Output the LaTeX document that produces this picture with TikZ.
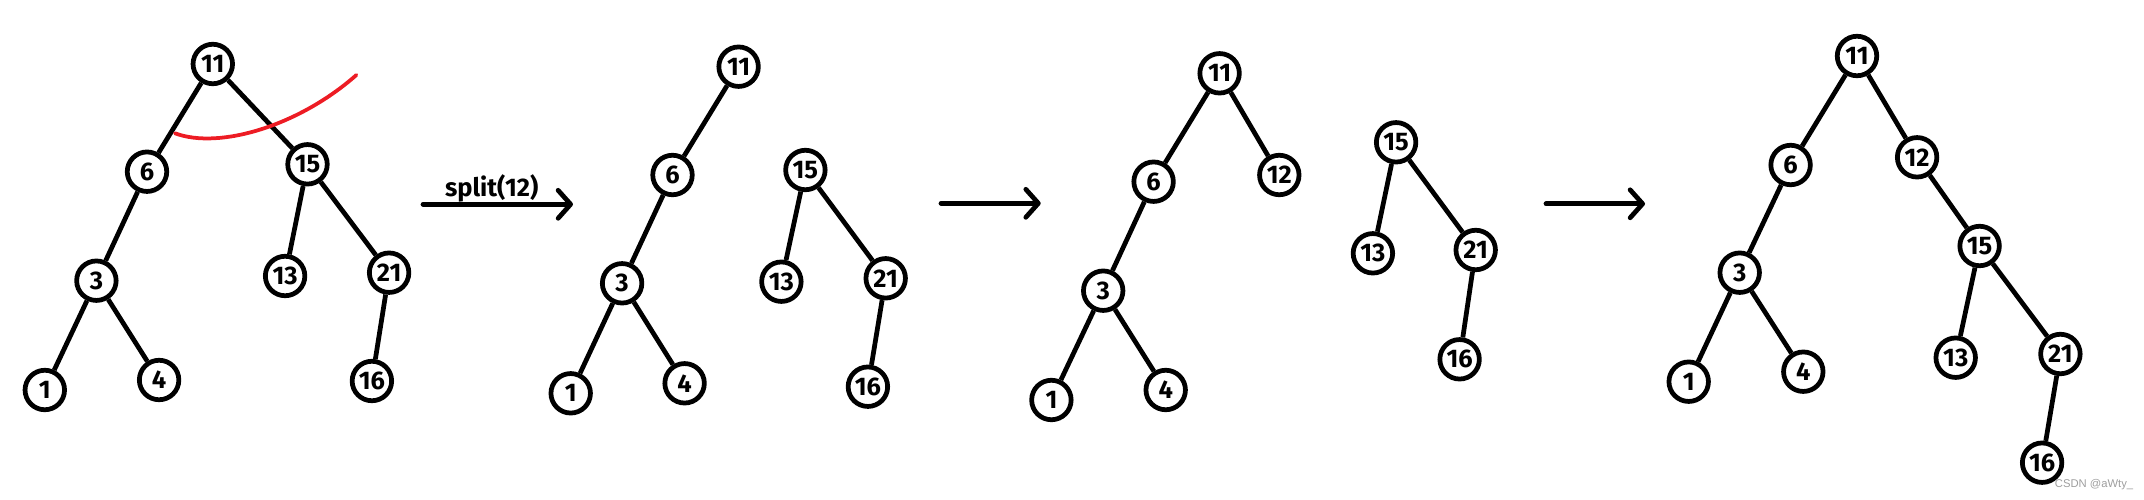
\documentclass[tikz,border=0pt]{standalone}
\usepackage{fontspec}
\setmainfont{Fira Sans}
\newfontfamily\wmfont{Liberation Sans}
\usetikzlibrary{arrows.meta}

\definecolor{cutred}{RGB}{237,28,36}
\tikzset{
  vtx/.style={circle, draw, line width=0.095cm, minimum size=0.79cm, inner sep=0pt,
    font=\bfseries\fontsize{14.5}{16}\selectfont},
  link/.style={line width=0.095cm},
  steparrow/.style={line width=0.095cm, line cap=round,
    -{Straight Barb[length=0.25cm, width=0.56cm, line cap=round, line join=round]}},
  cutline/.style={draw=cutred, line width=0.075cm, line cap=round}
}

\begin{document}
\begin{tikzpicture}[x=0.02cm, y=-0.02cm]
\useasboundingbox (0,0) rectangle (2144,500);

% Tree before the split
\foreach \n/\x/\y in {11/212.8/64, 6/147/171.7, 15/307.5/164.3, 3/96.4/280.7, 13/285.1/276,
    21/389.1/272.7, 1/44.8/390, 4/159.1/380, 16/371.9/381}
  \node[vtx] (a\n) at (\x,\y) {\n};
\foreach \p/\c in {11/6, 11/15, 6/3, 3/1, 3/4, 15/13, 15/21, 21/16}
  \draw[link] (a\p) -- (a\c);

% Cut through the tree
\draw[cutline] (175,133.3) .. controls (220,150) and (300,125) .. (356.4,75);

% split(12)
\coordinate (s1) at (423,204.3);
\coordinate (e1) at (573,204.3);
\draw[steparrow] (s1) -- (e1);
\node (splitlbl) at (491.7,188.3) {\bfseries\fontsize{14.5}{16}\selectfont split(12)};

% The two halves
\foreach \n/\x/\y in {11/738.6/66.7, 6/672.5/175, 3/622.1/283.3, 1/570.7/393.3, 4/684.6/383.3}
  \node[vtx] (b\n) at (\x,\y) {\n};
\foreach \p/\c in {11/6, 6/3, 3/1, 3/4}
  \draw[link] (b\p) -- (b\c);
\foreach \n/\x/\y in {15/805.4/170, 13/781.4/281.7, 21/885.7/278.3, 16/867.9/386.7}
  \node[vtx] (b\n) at (\x,\y) {\n};
\foreach \p/\c in {15/13, 15/21, 21/16}
  \draw[link] (b\p) -- (b\c);

\coordinate (s2) at (941,203.3);
\coordinate (e2) at (1040.7,203.3);
\draw[steparrow] (s2) -- (e2);

% 12 added to the left part
\foreach \n/\x/\y in {11/1219.6/73.3, 12/1279.3/175, 6/1153.6/181.7, 3/1103.2/290.7,
    1/1051.4/400, 4/1165.7/390}
  \node[vtx] (c\n) at (\x,\y) {\n};
\foreach \p/\c in {11/6, 11/12, 6/3, 3/1, 3/4}
  \draw[link] (c\p) -- (c\c);
\foreach \n/\x/\y in {15/1396.1/142.3, 13/1372.9/253.3, 21/1475.7/250, 16/1459.6/359.3}
  \node[vtx] (c\n) at (\x,\y) {\n};
\foreach \p/\c in {15/13, 15/21, 21/16}
  \draw[link] (c\p) -- (c\c);

\coordinate (s3) at (1546,203.8);
\coordinate (e3) at (1645,203.8);
\draw[steparrow] (s3) -- (e3);

% Merged tree
\foreach \n/\x/\y in {11/1857/56, 6/1790.6/165, 12/1917.1/157.3, 3/1739.7/272.7, 1/1688.7/381.7,
    4/1803.3/371.7, 15/1979.6/246, 13/1955.7/357.7, 21/2060.4/354, 16/2042.1/462.7}
  \node[vtx] (d\n) at (\x,\y) {\n};
\foreach \p/\c in {11/6, 11/12, 6/3, 3/1, 3/4, 12/15, 15/13, 15/21, 21/16}
  \draw[link] (d\p) -- (d\c);

\node[text=black!38, font=\wmfont\fontsize{6.4}{7}\selectfont] (wm) at (2094,485) {CSDN @aWty\_};

\end{tikzpicture}
\end{document}
